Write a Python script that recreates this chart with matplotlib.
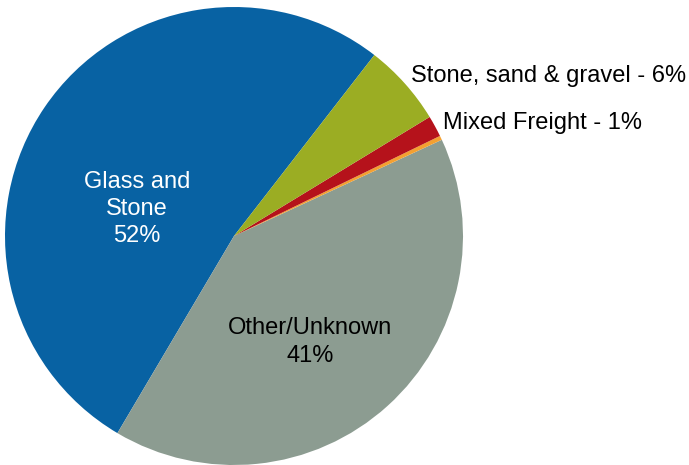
import matplotlib.pyplot as plt

categories = ['Glass and Stone', 'Other/Unknown', 'Other', 'Mixed Freight', 'Stone, sand & gravel']
shares = [52.0, 40.4, 0.3, 1.5, 5.8]
colors = ['#0862A3', '#8C9C91', '#F4A030', '#B5121B', '#9BAD23']

plt.rcParams['font.family'] = ['Liberation Sans', 'DejaVu Sans']

W, H = 689, 465
fig = plt.figure(figsize=(W / 100, H / 100), dpi=100)
# pie centre at (234, 236) px from top-left, radius 229 px
cx, cy, r = 234, 236, 229
ax = fig.add_axes([(cx - r) / W, (H - cy - r) / H, 2 * r / W, 2 * r / H])

ax.pie(shares, colors=colors, startangle=52.2, counterclock=True, radius=1,
       wedgeprops=dict(linewidth=0))
ax.set_xlim(-1, 1)
ax.set_ylim(-1, 1)
ax.axis('off')


def px(x, y):
    return (x - cx) / r, (cy - y) / r


fs = 17
ax.text(*px(137, 209), 'Glass and\nStone\n52%', color='white', fontsize=fs,
        ha='center', va='center', linespacing=1.3)
ax.text(*px(310, 342), 'Other/Unknown\n41%', color='black', fontsize=fs,
        ha='center', va='center', linespacing=1.3)
ax.text(*px(411, 76), 'Stone, sand & gravel - 6%', color='black', fontsize=fs,
        ha='left', va='center', clip_on=False)
ax.text(*px(443, 123), 'Mixed Freight - 1%', color='black', fontsize=fs,
        ha='left', va='center', clip_on=False)

fig.savefig('out.png', dpi=100)
